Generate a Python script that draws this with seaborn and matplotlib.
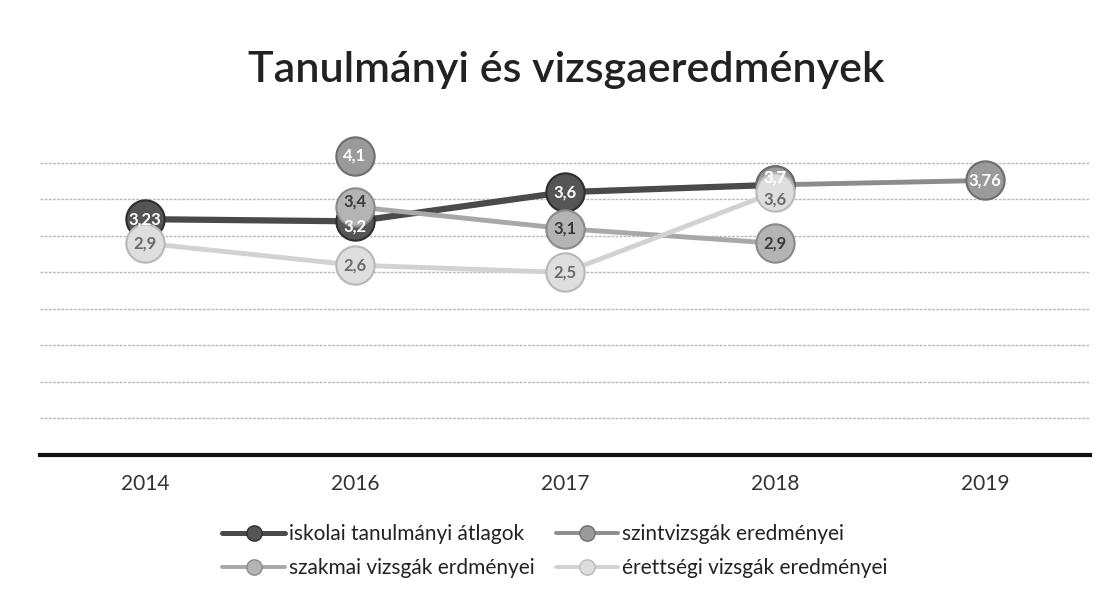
import numpy as np
import pandas as pd
import matplotlib
matplotlib.use("Agg")
import matplotlib.pyplot as plt
import seaborn as sns
from matplotlib.lines import Line2D

# ---- data ----
years = ["2014", "2016", "2017", "2018", "2019"]
series_names = ["iskolai tanulmányi átlagok", "szintvizsgák eredményei",
                "szakmai vizsgák erdményei", "érettségi vizsgák eredményei"]
iskolai = [3.23, 3.2, 3.6, 3.7, np.nan]
szintvizsga = [np.nan, 4.1, np.nan, 3.7, 3.76]
szakmai = [np.nan, 3.4, 3.1, 2.9, np.nan]
erettsegi = [2.9, 2.6, 2.5, 3.6, np.nan]
title = "Tanulmányi és vizsgaeredmények"

values = [iskolai, szintvizsga, szakmai, erettsegi]
line_colors = ["#4a4a4a", "#8c8c8c", "#a8a8a8", "#d2d2d2"]
marker_colors = ["#555555", "#9a9a9a", "#b4b4b4", "#dedede"]
edge_colors = ["#2e2e2e", "#6e6e6e", "#8a8a8a", "#b8b8b8"]
label_colors = ["white", "white", "#3a3a3a", "#6a6a6a"]
line_widths = [4.5, 3.5, 3.5, 3.5]

rows = []
for name, vals in zip(series_names, values):
    seg = 0
    for i, v in enumerate(vals):
        if np.isnan(v):
            seg += 1
            continue
        rows.append({"series": name, "pos": i, "year": years[i], "value": v,
                     "seg": f"{name}-{seg}"})
df = pd.DataFrame(rows)

sns.set_theme(style="white")
plt.rcParams["font.family"] = ["Lato", "DejaVu Sans"]

fig = plt.figure(figsize=(11.1, 6.05), dpi=100)
ax = fig.add_axes([0.036, 0.248, 0.946, 0.543])

for y in np.arange(0.5, 4.01, 0.5):
    ax.axhline(y, color="#b8b8b8", lw=1.0, ls=(0, (2, 1)), zorder=0)

for k, name in enumerate(series_names):
    sub = df[df["series"] == name]
    sns.lineplot(data=sub, x="pos", y="value", units="seg", estimator=None,
                 color=line_colors[k], lw=line_widths[k], ax=ax, legend=False,
                 zorder=2 + k)

# points whose circles sit on top of each other: nudge only the label text
label_nudge = {(0, 1): -0.07, (2, 1): 0.07, (0, 3): 0.1, (1, 3): 0.1, (3, 3): -0.1}
for k, name in enumerate(series_names):
    sub = df[df["series"] == name]
    sns.scatterplot(data=sub, x="pos", y="value", s=760, color=marker_colors[k],
                    edgecolor=edge_colors[k], linewidth=1.5, ax=ax,
                    legend=False, zorder=10 + k)
    for _, r in sub.iterrows():
        dy = label_nudge.get((k, int(r["pos"])), 0.0)
        ax.text(r["pos"], r["value"] + dy, f"{r['value']:g}".replace(".", ","),
                ha="center", va="center", fontsize=12, fontweight="bold",
                color=label_colors[k], zorder=20 + k)

ax.set_xlim(-0.5, 4.5)
ax.set_ylim(0, 4.5)
ax.set_xticks(range(len(years)))
ax.set_xticklabels(years, fontsize=15, color="#333333")
ax.set_yticks([])
ax.set_xlabel("")
ax.set_ylabel("")
ax.tick_params(axis="x", length=0, pad=14)
for s in ["top", "right", "left"]:
    ax.spines[s].set_visible(False)
ax.spines["bottom"].set_color("#111111")
ax.spines["bottom"].set_linewidth(3)

fig.text(0.51, 0.884, title, ha="center", va="center", fontsize=31,
         fontweight="semibold", color="#222222")

handles = [Line2D([0], [0], color=line_colors[k], lw=line_widths[k] * 0.8,
                  marker="o", markersize=11, markerfacecolor=marker_colors[k],
                  markeredgecolor=edge_colors[k]) for k in range(4)]
order = [0, 2, 1, 3]  # legend fills column-wise; reference reads row-wise
fig.legend([handles[i] for i in order], [series_names[i] for i in order],
           loc="center", bbox_to_anchor=(0.5, 0.089),
           ncol=2, frameon=False, fontsize=15, handlelength=3.0,
           handletextpad=0.2, columnspacing=1.0, labelspacing=0.7,
           labelcolor="#222222")

fig.savefig("out.png", dpi=100, facecolor="white")
